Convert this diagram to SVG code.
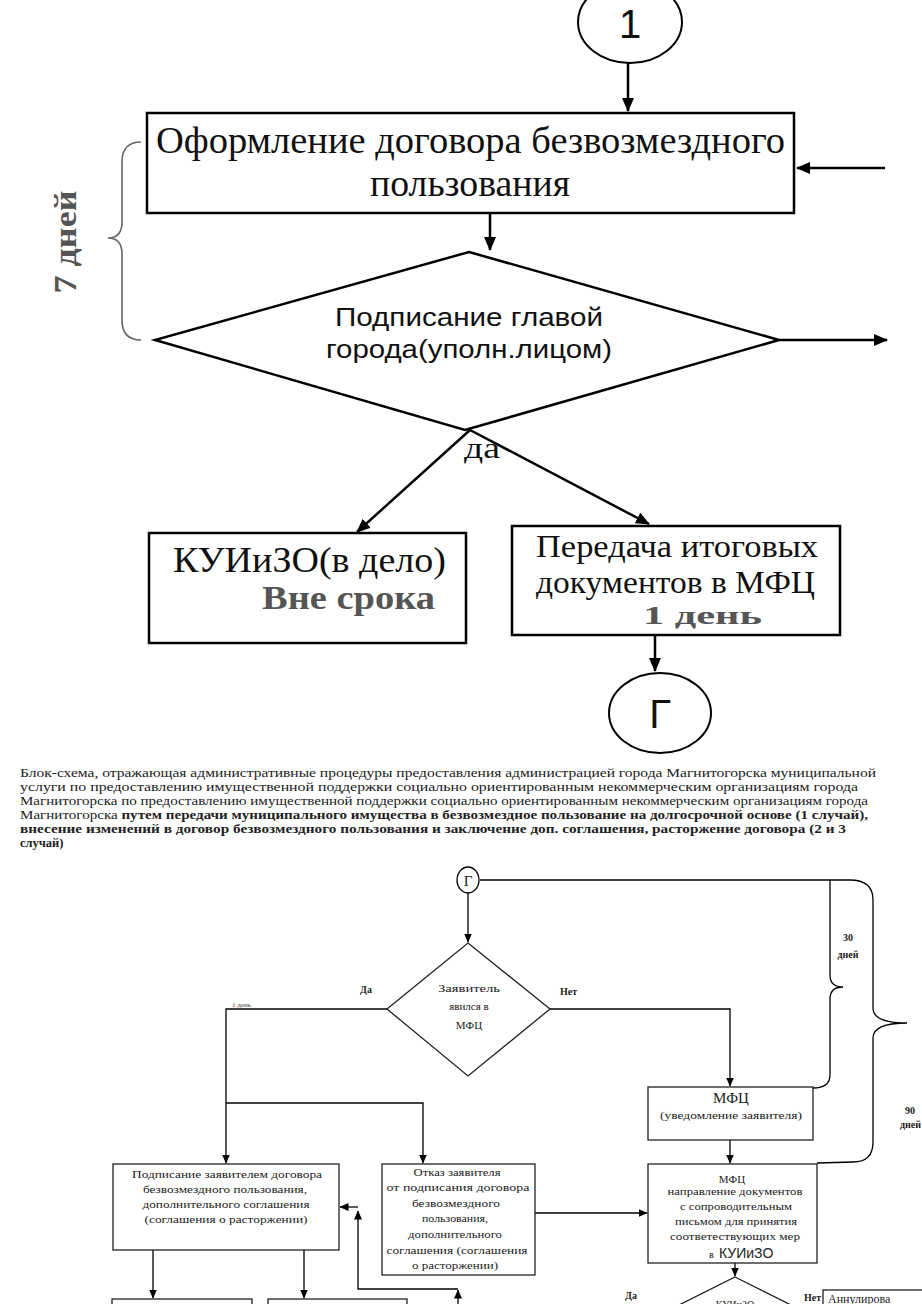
<svg xmlns="http://www.w3.org/2000/svg" width="922" height="1304" viewBox="0 0 922 1304">
<style>
.thick{stroke:#000;stroke-width:2.5;fill:none}
.box{stroke:#000;stroke-width:2.5;fill:#fff}
.thin{stroke:#000;stroke-width:1.3;fill:none}
.tbox{stroke:#222;stroke-width:1.3;fill:#fff}
text.serif,.serif text{font-family:"Liberation Serif","Times New Roman",serif}
text.sans,.sans text{font-family:"Liberation Sans",Arial,sans-serif}
.big{font-size:37px;fill:#111}
.dia{font-size:26px;fill:#111}
.gray{font-weight:bold;fill:#555}
.par text{font-size:12.5px;fill:#222}
.sm text,text.sm{font-size:11px;fill:#222}
.lab text,text.lab{font-size:10px;font-weight:bold;fill:#222}
</style>
<defs>
<marker id="ab" markerUnits="userSpaceOnUse" markerWidth="14" markerHeight="12" refX="13" refY="6" orient="auto"><path d="M0,0 L14,6 L0,12 z" fill="#000"/></marker>
<marker id="as" markerUnits="userSpaceOnUse" markerWidth="9" markerHeight="8" refX="8.5" refY="4" orient="auto"><path d="M0,0 L9,4 L0,8 z" fill="#000"/></marker>
</defs>
<rect width="922" height="1304" fill="#fff"/>

<g id="connectors">
<path class="thick" d="M628 63 L628 111" marker-end="url(#ab)"/>
<path class="thick" d="M885 168 L797 168" marker-end="url(#ab)"/>
<path class="thick" d="M490 213 L490 250" marker-end="url(#ab)"/>
<path class="thick" d="M779 340 L887 340" marker-end="url(#ab)"/>
<path class="thick" d="M470 430 L357 532" marker-end="url(#ab)"/>
<path class="thick" d="M470 430 L649 524" marker-end="url(#ab)"/>
<path class="thick" d="M655 635 L655 671" marker-end="url(#ab)"/>
<path d="M141 142 Q122 142 122 162 L122 222 Q122 238 108 238 Q122 238 122 254 L122 320 Q122 340 141 340" fill="none" stroke="#666" stroke-width="1.6"/>

<path class="thin" d="M480 880 L850 880 Q873 880 873 900 L873 1008 Q873 1023 907 1023 Q873 1023 873 1038 L873 1142 Q873 1162 853 1162 L817 1163"/>
<path class="thin" d="M830 880 L830 975 Q830 987 843 987 Q830 987 830 999 L830 1075 Q830 1088 813 1088"/>
<path class="thin" d="M468 893 L468 942" marker-end="url(#as)"/>
<path class="thin" d="M387 1009 L226 1009 L226 1163" marker-end="url(#as)"/>
<path class="thin" d="M226 1103 L423 1103 L423 1163" marker-end="url(#as)"/>
<path class="thin" d="M550 1009 L730 1009 L730 1086" marker-end="url(#as)"/>
<path class="thin" d="M730 1140 L730 1163" marker-end="url(#as)"/>
<path class="thin" d="M535 1213 L647 1213" marker-end="url(#as)"/>
<path class="thin" d="M735 1263 L735 1276" marker-end="url(#as)"/>
<path class="thin" d="M153 1250 L153 1298" marker-end="url(#as)"/>
<path class="thin" d="M304 1250 L304 1298" marker-end="url(#as)"/>
<path class="thin" d="M458 1304 L458 1290" marker-end="url(#as)"/>
<path class="thin" d="M458 1289 L358 1289 L358 1211" marker-end="url(#as)"/>
<path class="thin" d="M358 1207 L340 1207" marker-end="url(#as)"/>
</g>

<g id="n-circle1">
<ellipse cx="630" cy="22" rx="52" ry="41" fill="#fff" stroke="#000" stroke-width="2"/>
<text x="630" y="38" text-anchor="middle" class="sans" font-size="40" fill="#111">1</text>
</g>

<g id="n-oformlenie">
<rect x="147" y="113" width="647" height="100" class="box"/>
<text x="156" y="153" class="serif big" textLength="629" lengthAdjust="spacingAndGlyphs">Оформление договора безвозмездного</text>
<text x="370" y="196" class="serif big" textLength="200" lengthAdjust="spacingAndGlyphs">пользования</text>
</g>

<g id="n-podpisanie">
<polygon points="469,252 779,340 465,430 155,340" fill="#fff" stroke="#000" stroke-width="2.5"/>
<text x="335" y="326" class="sans dia" textLength="268" lengthAdjust="spacingAndGlyphs">Подписание  главой</text>
<text x="326" y="358" class="sans dia" textLength="286" lengthAdjust="spacingAndGlyphs">города(уполн.лицом)</text>
</g>

<g id="lbl-7days">
<text transform="translate(76,242) rotate(-90)" text-anchor="middle" class="serif gray" font-size="31" textLength="103" lengthAdjust="spacingAndGlyphs">7 дней</text>
</g>

<g id="lbl-da">
<text x="464" y="458" class="serif" font-size="30" fill="#111" textLength="36" lengthAdjust="spacingAndGlyphs">да</text>
</g>

<g id="n-kuizo">
<rect x="149" y="533" width="317" height="110" class="box"/>
<text x="173" y="572" class="serif" font-size="36" fill="#111" textLength="273" lengthAdjust="spacingAndGlyphs">КУИиЗО(в дело)</text>
<text x="262" y="609" class="serif gray" font-size="33" textLength="173" lengthAdjust="spacingAndGlyphs">Вне срока</text>
</g>

<g id="n-peredacha">
<rect x="512" y="526" width="328" height="109" class="box"/>
<text x="536" y="557" class="serif" font-size="31" fill="#111" textLength="282" lengthAdjust="spacingAndGlyphs">Передача итоговых</text>
<text x="536" y="593" class="serif" font-size="31" fill="#111" textLength="279" lengthAdjust="spacingAndGlyphs">документов в МФЦ</text>
<text x="643" y="624" class="serif gray" font-size="26" textLength="119" lengthAdjust="spacingAndGlyphs">1  день</text>
</g>

<g id="n-circleG">
<ellipse cx="660" cy="713" rx="51" ry="40" fill="#fff" stroke="#000" stroke-width="2"/>
<text x="660" y="728" text-anchor="middle" class="sans" font-size="40" fill="#111">Г</text>
</g>

<g id="caption" class="serif par" font-family="'Liberation Serif', 'Times New Roman', serif">
<text x="20" y="777" textLength="856" lengthAdjust="spacingAndGlyphs">Блок-схема, отражающая административные процедуры предоставления администрацией города Магнитогорска муниципальной</text>
<text x="20" y="791" textLength="838" lengthAdjust="spacingAndGlyphs">услуги по предоставлению имущественной поддержки социально ориентированным некоммерческим организациям города</text>
<text x="20" y="805" textLength="848" lengthAdjust="spacingAndGlyphs">Магнитогорска по предоставлению имущественной поддержки социально ориентированным некоммерческим организациям города</text>
<text x="20" y="819" textLength="848" lengthAdjust="spacingAndGlyphs">Магнитогорска <tspan font-weight="bold">путем передачи муниципального имущества в безвозмездное пользование на долгосрочной основе (1 случай),</tspan></text>
<text x="20" y="833" font-weight="bold" textLength="826" lengthAdjust="spacingAndGlyphs">внесение изменений в договор безвозмездного пользования и заключение доп. соглашения, расторжение договора  (2 и 3</text>
<text x="20" y="847" font-weight="bold">случай)</text>
</g>

<g id="n-G-small">
<ellipse cx="468" cy="880" rx="11" ry="13" fill="#fff" stroke="#000" stroke-width="1.3"/>
<text x="468" y="886" text-anchor="middle" class="serif" font-size="15" fill="#222">Г</text>
</g>

<g id="lbl-30" class="serif lab" text-anchor="middle">
<text x="848" y="941">30</text>
<text x="848" y="958">дней</text>
</g>
<g id="lbl-90" class="serif lab">
<text x="905" y="1114">90</text>
<text x="900" y="1128">дней</text>
</g>

<g id="n-zayavitel">
<polygon points="468,943 550,1009 468,1076 387,1009" fill="#fff" stroke="#222" stroke-width="1.3"/>
<g class="serif sm" text-anchor="middle">
<text x="469" y="992" textLength="62" lengthAdjust="spacingAndGlyphs">Заявитель</text>
<text x="469" y="1010">явился в</text>
<text x="469" y="1029">МФЦ</text>
</g>
</g>
<text x="360" y="993" class="serif lab">Да</text>
<text x="560" y="995" class="serif lab">Нет</text>
<text x="232" y="1007" class="serif" font-size="7" fill="#444">1 день</text>

<g id="n-podpisanie-zayav">
<rect x="113" y="1164" width="226" height="86" class="tbox"/>
<g class="serif sm" text-anchor="middle">
<text x="227" y="1178" textLength="190" lengthAdjust="spacingAndGlyphs">Подписание заявителем договора</text>
<text x="225" y="1193" textLength="164" lengthAdjust="spacingAndGlyphs">безвозмездного пользования,</text>
<text x="226" y="1208" textLength="167" lengthAdjust="spacingAndGlyphs">дополнительного соглашения</text>
<text x="226" y="1223" textLength="163" lengthAdjust="spacingAndGlyphs">(соглашения о расторжении)</text>
</g>
</g>

<g id="n-otkaz">
<rect x="382" y="1164" width="153" height="111" class="tbox"/>
<g class="serif sm" text-anchor="middle">
<text x="457" y="1176" textLength="87" lengthAdjust="spacingAndGlyphs">Отказ заявителя</text>
<text x="458" y="1191" textLength="143" lengthAdjust="spacingAndGlyphs">от подписания  договора</text>
<text x="456" y="1207" textLength="88" lengthAdjust="spacingAndGlyphs">безвозмездного</text>
<text x="455" y="1222" textLength="66" lengthAdjust="spacingAndGlyphs">пользования,</text>
<text x="455" y="1238" textLength="94" lengthAdjust="spacingAndGlyphs">дополнительного</text>
<text x="457" y="1254" textLength="141" lengthAdjust="spacingAndGlyphs">соглашения (соглашения</text>
<text x="455" y="1269" textLength="86" lengthAdjust="spacingAndGlyphs">о расторжении)</text>
</g>
</g>

<g id="n-mfc1">
<rect x="648" y="1087" width="165" height="53" class="tbox"/>
<text x="731" y="1103" text-anchor="middle" class="serif" font-size="15" fill="#222">МФЦ</text>
<text x="731" y="1119" text-anchor="middle" class="serif sm" textLength="142" lengthAdjust="spacingAndGlyphs">(уведомление заявителя)</text>
</g>

<g id="n-mfc2">
<rect x="648" y="1164" width="169" height="99" class="tbox"/>
<g class="serif sm" text-anchor="middle">
<text x="732" y="1183" font-size="15">МФЦ</text>
<text x="735" y="1195" textLength="135" lengthAdjust="spacingAndGlyphs">направление документов</text>
<text x="736" y="1210" textLength="112" lengthAdjust="spacingAndGlyphs">с сопроводительным</text>
<text x="736" y="1225" textLength="122" lengthAdjust="spacingAndGlyphs">письмом для принятия</text>
<text x="735" y="1240" textLength="130" lengthAdjust="spacingAndGlyphs">соответествующих мер</text>
</g>
<text x="709" y="1258" class="serif" font-size="10" fill="#222">в</text>
<text x="719" y="1258" class="sans" font-size="14" fill="#222">КУИиЗО</text>
</g>

<g id="n-kuizo-dia">
<polygon points="735,1277 815,1317 735,1357 655,1317" fill="#fff" stroke="#222" stroke-width="1.3"/>
<text x="735" y="1308" text-anchor="middle" class="serif" font-size="10" fill="#222">КУИиЗО</text>
</g>
<text x="625" y="1299" class="serif lab">Да</text>
<text x="804" y="1301" class="serif lab">Нет</text>

<g id="n-annul">
<rect x="823" y="1290" width="120" height="40" class="tbox"/>
<text x="828" y="1303" class="serif" font-size="12" fill="#222">Аннулирова</text>
</g>

<g id="n-bottom1">
<rect x="112" y="1299" width="140" height="30" class="tbox"/>
</g>
<g id="n-bottom2">
<rect x="268" y="1299" width="139" height="30" class="tbox"/>
</g>
</svg>
